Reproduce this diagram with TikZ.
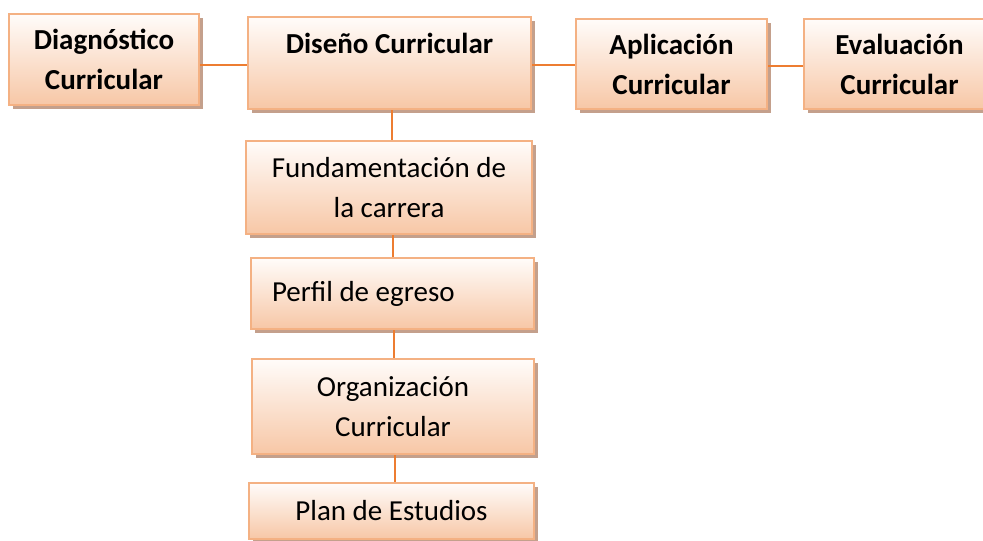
\documentclass[tikz,border=0pt]{standalone}
\usepackage{fontspec}
\setmainfont{Carlito}
\usetikzlibrary{shadows}
\definecolor{boxborder}{HTML}{F4B183}
\definecolor{boxtop}{HTML}{FFFCFA}
\definecolor{boxmid}{HTML}{FBE2D2}
\definecolor{boxbot}{HTML}{F7C7A6}
\definecolor{shadowc}{HTML}{C4A08C}
\definecolor{linkc}{HTML}{ED7D31}
\begin{document}
\begin{tikzpicture}[x=1pt,y=-1pt,
  cbox/.style={draw=boxborder, line width=2.2pt, top color=boxtop, middle color=boxmid, bottom color=boxbot,
    general shadow={fill=shadowc, shadow xshift=4pt, shadow yshift=-4pt},
    inner sep=0pt, align=center, font=\fontsize{29}{40}\selectfont},
  bbox/.style={cbox, font=\fontsize{29}{40}\selectfont\bfseries},
  link/.style={draw=linkc, line width=1.3pt}]
\useasboundingbox (0,0) rectangle (983,541);
% top row
\node[bbox, minimum width=190pt, minimum height=91pt] (diag) at (104,59.5) {Diagnóstico\\Curricular};
\node[bbox, minimum width=283pt, minimum height=92pt] (dis) at (389.5,63) {Diseño Curricular\\\mbox{}};
\node[bbox, minimum width=191pt, minimum height=90pt] (apl) at (671.5,64) {Aplicación\\Curricular};
\node[bbox, minimum width=191pt, minimum height=90pt] (eva) at (899.5,64) {Evaluación\\Curricular};
% column
\node[cbox, minimum width=286pt, minimum height=93pt] (fun) at (389,187.5) {Fundamentación de\\la carrera};
\node[cbox, minimum width=283pt, minimum height=71pt] (per) at (392.5,293.5) {\makebox[241pt][l]{Perfil de egreso}};
\node[cbox, minimum width=282pt, minimum height=95pt] (org) at (393,406.5) {Organización\\Curricular};
\node[cbox, minimum width=285pt, minimum height=56pt] (plan) at (391.5,511) {Plan de Estudios};
% connectors
\coordinate (hy) at (0,65);
\coordinate (hy2) at (0,66);
\coordinate (v1) at (392,0);
\coordinate (v2) at (393,0);
\coordinate (v3) at (394,0);
\coordinate (v4) at (395,0);
\draw[link] (diag.east |- hy) -- (dis.west |- hy);
\draw[link] (dis.east |- hy) -- (apl.west |- hy);
\draw[link] (apl.east |- hy2) -- (eva.west |- hy2);
\draw[link] (dis.south -| v1) -- (fun.north -| v1);
\draw[link] (fun.south -| v2) -- (per.north -| v2);
\draw[link] (per.south -| v3) -- (org.north -| v3);
\draw[link] (org.south -| v4) -- (plan.north -| v4);
\end{tikzpicture}
\end{document}
